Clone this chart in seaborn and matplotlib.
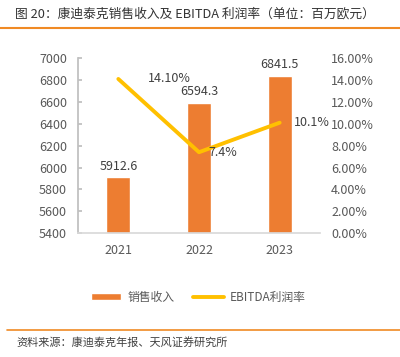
import matplotlib
matplotlib.use("Agg")
import matplotlib.pyplot as plt
import seaborn as sns
import pandas as pd
from matplotlib.ticker import FuncFormatter

years = ["2021", "2022", "2023"]
revenue = [5912.6, 6594.3, 6841.5]
margin = [14.10, 7.4, 10.1]
margin_labels = ["14.10%", "7.4%", "10.1%"]

sns.set_theme(style="white")
plt.rcParams["font.family"] = ["Noto Sans CJK SC", "DejaVu Sans"]

df = pd.DataFrame({"year": years, "revenue": revenue, "margin": margin})

fig = plt.figure(figsize=(4, 3.57), dpi=100)
ax = fig.add_axes([0.195, 0.347, 0.605, 0.49])

sns.barplot(data=df, x="year", y="revenue", color="#ED7D31", width=0.3,
            saturation=1, ax=ax, label="销售收入")
ax.set_ylim(5400, 7000)
ax.set_yticks(range(5400, 7001, 200))
ax.set_xlim(-0.5, 2.5)
ax.set_xlabel("")
ax.set_ylabel("")
for i, v in enumerate(revenue):
    ax.text(i, v + 40, f"{v:.1f}", ha="center", va="bottom", fontsize=9, color="#404040")

ax2 = ax.twinx()
sns.lineplot(x=[0, 1, 2], y=margin, color="#FFC000", linewidth=2.8, ax=ax2,
             label="EBITDA利润率")
ax2.set_ylim(0, 16)
ax2.set_yticks(range(0, 17, 2))
ax2.yaxis.set_major_formatter(FuncFormatter(lambda v, p: f"{v:.2f}%"))
label_dx = [0.37, 0.12, 0.18]
for i, (lab, m) in enumerate(zip(margin_labels, margin)):
    ax2.text(i + label_dx[i], m, lab, ha="left", va="center", fontsize=9, color="#404040")

for a in (ax, ax2):
    for s in a.spines.values():
        s.set_visible(False)
    a.tick_params(axis="both", labelsize=9, labelcolor="#595959", length=0)
ax.spines["left"].set_visible(True)
ax.spines["left"].set_color("#BFBFBF")
ax.spines["bottom"].set_visible(True)
ax.spines["bottom"].set_color("#D9D9D9")
ax.tick_params(axis="y", direction="in", length=3, color="#BFBFBF", pad=8)
ax.tick_params(axis="x", pad=8)
ax2.tick_params(axis="y", pad=8)

h1, l1 = ax.get_legend_handles_labels()
h2, l2 = ax2.get_legend_handles_labels()
if ax2.get_legend():
    ax2.get_legend().remove()
if ax.get_legend():
    ax.get_legend().remove()
fig.legend(h1 + h2, l1 + l2, loc="center", bbox_to_anchor=(0.495, 0.168), ncol=2,
           frameon=False, fontsize=8.5, labelcolor="#595959", handlelength=2.6,
           handleheight=0.6, handletextpad=0.5, columnspacing=1.6)

fig.text(0.038, 0.962, "图 20：康迪泰克销售收入及 EBITDA 利润率（单位：百万欧元）",
         fontsize=9.2, color="#333333", va="center", fontweight="medium")
fig.add_artist(plt.Line2D([0.0, 1.0], [0.922, 0.922], color="#F08A24", linewidth=1.5))
fig.add_artist(plt.Line2D([0.018, 1.0], [0.076, 0.076], color="#F08A24", linewidth=1.2))
fig.text(0.04, 0.04, "资料来源：康迪泰克年报、天风证券研究所", fontsize=8, color="#404040", va="center")

fig.savefig("out.png", dpi=100)
